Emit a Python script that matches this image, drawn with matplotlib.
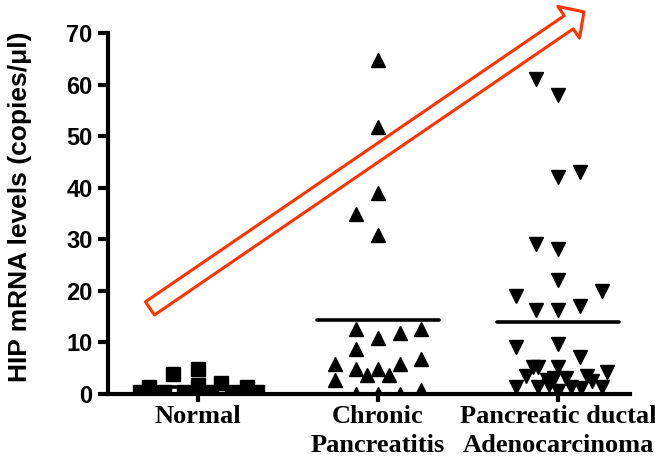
import numpy as np
import matplotlib.pyplot as plt

# HIP mRNA levels per group (copies/ul) and the sideways scatter used to keep points apart
groups = ["Normal", "Chronic\nPancreatitis", "Pancreatic ductal\nAdenocarcinoma"]
markers = ["s", "^", "v"]

normal = [0.4, 1.4, 3.9, 4.8, 1.7, 2.1, 1.4, 0.4, 0.3, 0.3, 0.3, 0.3]
normal_jitter = [-0.32, -0.27, -0.14, 0.0, 0.0, 0.13, 0.27, 0.33, -0.19, -0.08, 0.07, 0.19]

chronic = [64.7, 51.8, 39.0, 34.9, 30.8,
           12.7, 10.8, 11.8, 12.7, 8.7, 5.8, 2.8, 4.8, 3.7, 4.8, 3.7, 5.8, 6.7,
           0.0, 0.0, 0.0, 0.8]
chronic_jitter = [0.0, 0.0, 0.0, -0.12, 0.0,
                  -0.12, 0.0, 0.12, 0.24, -0.12, -0.24, -0.24, -0.12, -0.06, 0.0, 0.06, 0.12, 0.24,
                  -0.12, 0.0, 0.12, 0.24]

pdac = [61.0, 58.0, 42.0, 43.0, 29.0, 28.1, 22.1, 19.0, 20.0, 16.2, 16.2, 17.1,
        9.2, 9.7, 7.1, 5.3, 5.3, 5.3, 4.3, 3.4, 2.7, 3.1, 3.1, 3.4, 2.5,
        1.4, 1.4, 1.7, 1.4, 1.1, 1.4, 0.5]
pdac_jitter = [-0.12, 0.0, 0.0, 0.12, -0.12, 0.0, 0.0, -0.235, 0.245, -0.12, 0.0, 0.12,
               -0.235, 0.0, 0.12, -0.14, -0.11, 0.0, 0.27, -0.18, -0.06, -0.02, 0.045, 0.16, 0.19,
               -0.235, -0.11, -0.05, 0.07, 0.13, 0.245, 0.0]

values = [normal, chronic, pdac]
jitter = [normal_jitter, chronic_jitter, pdac_jitter]

yticks = [0, 10, 20, 30, 40, 50, 60, 70]

# trend arrow, tail and tip in data units
arrow_tail = (-0.267, 16.6)
arrow_tip = (2.144, 74.1)

fig = plt.figure(figsize=(6.55, 4.63), dpi=100)
ax = fig.add_axes([0.1649, 0.149, 0.797, 0.7797])

for i, (vals, jit) in enumerate(zip(values, jitter)):
    xs = i + np.array(jit)
    ax.plot(xs, vals, linestyle="none", marker=markers[i], ms=10.5,
            color="black", mec="black", zorder=2)
    m = np.mean(vals)
    ax.plot([i - 0.34, i + 0.34], [m, m], color="black", lw=2.6,
            solid_capstyle="round", zorder=3)

ax.set_xlim(-0.5, 2.4)
ax.set_ylim(0, 70)

for side in ["top", "right"]:
    ax.spines[side].set_visible(False)
for side in ["left", "bottom"]:
    ax.spines[side].set_linewidth(3.0)
    ax.spines[side].set_zorder(4)

ax.set_yticks(yticks)
ax.set_yticklabels([str(t) for t in yticks], fontfamily="Liberation Sans",
                   fontweight="bold", fontsize=17)
ax.tick_params(axis="y", direction="out", length=7, width=3, pad=4)

ax.set_xticks(range(len(groups)))
ax.set_xticklabels(groups, fontfamily="Liberation Serif", fontweight="bold",
                   fontsize=19, linespacing=1.3)
ax.tick_params(axis="x", direction="out", length=6, width=3, pad=2)

ax.set_ylabel("HIP mRNA levels (copies/\u03bcl)", fontfamily="Liberation Sans",
              fontweight="bold", fontsize=19)
ax.yaxis.set_label_coords(-0.146, 0.518)

ax.annotate("", xy=arrow_tip, xytext=arrow_tail, xycoords="data",
            annotation_clip=False,
            arrowprops=dict(arrowstyle="simple,head_length=13.3,head_width=27.6,tail_width=11.5",
                            mutation_scale=1, fc="none", ec="#ff3300", lw=2.2,
                            shrinkA=0, shrinkB=0, clip_on=False))

fig.savefig("out.png", dpi=100)
